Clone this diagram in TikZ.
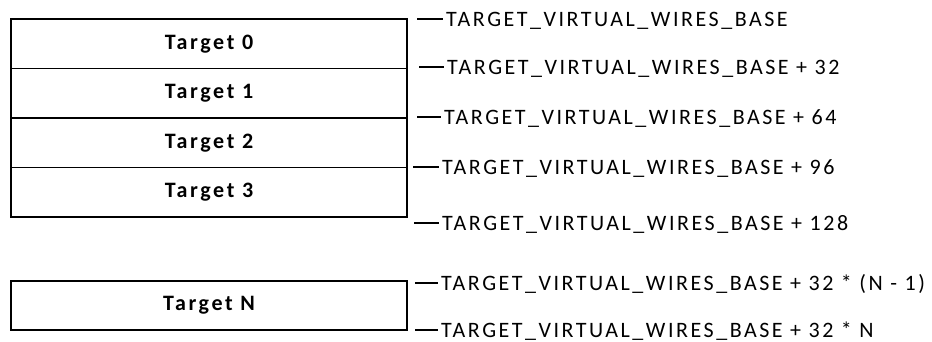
\documentclass[tikz,border=0pt]{standalone}
\usepackage{fontspec}
\setmainfont{Carlito}[LetterSpace=11.5]
\begin{document}
\begin{tikzpicture}[x=1pt,y=-1pt,
  tbox/.style={draw, line width=1.5pt, minimum width=396pt, minimum height=49.5pt,
    inner sep=0pt, font=\fontsize{22}{26}\selectfont\bfseries\addfontfeature{LetterSpace=12}},
  lbl/.style={anchor=west, inner xsep=3pt, inner ysep=0pt, text height=14pt, text depth=0pt,
    font=\fontsize{22}{26}\selectfont},
  tick/.style={line width=1.5pt}]
\useasboundingbox (0,0) rectangle (932,341);
\node[tbox] (t0) at (209,43.75) {Target 0};
\node[tbox] (t1) at (209,93.25) {Target 1};
\node[tbox] (t2) at (209,142.75) {Target 2};
\node[tbox] (t3) at (209,192.25) {Target 3};
\node[tbox, minimum height=49pt] (tn) at (209,305.5) {Target N};

\node[lbl] (l1) at (443,19) {TARGET\_VIRTUAL\_WIRES\_BASE};
\node[lbl] (l2) at (444,67) {TARGET\_VIRTUAL\_WIRES\_BASE + 32};
\node[lbl] (l3) at (441,117) {TARGET\_VIRTUAL\_WIRES\_BASE + 64};
\node[lbl] (l4) at (439,167) {TARGET\_VIRTUAL\_WIRES\_BASE + 96};
\node[lbl] (l5) at (439,223) {TARGET\_VIRTUAL\_WIRES\_BASE + 128};
\node[lbl] (l6) at (438,283) {TARGET\_VIRTUAL\_WIRES\_BASE + 32 * (N - 1)};
\node[lbl] (l7) at (438,330) {TARGET\_VIRTUAL\_WIRES\_BASE + 32 * N};

\coordinate (d1) at (417,19);
\coordinate (d2) at (419,67);
\coordinate (d3) at (417,117);
\coordinate (d4) at (413,167);
\coordinate (d5) at (414,223);
\coordinate (d6) at (415,283);
\coordinate (d7) at (415,330);
\foreach \i in {1,...,7} \draw[tick] (d\i) -- (l\i.west);
\end{tikzpicture}
\end{document}
